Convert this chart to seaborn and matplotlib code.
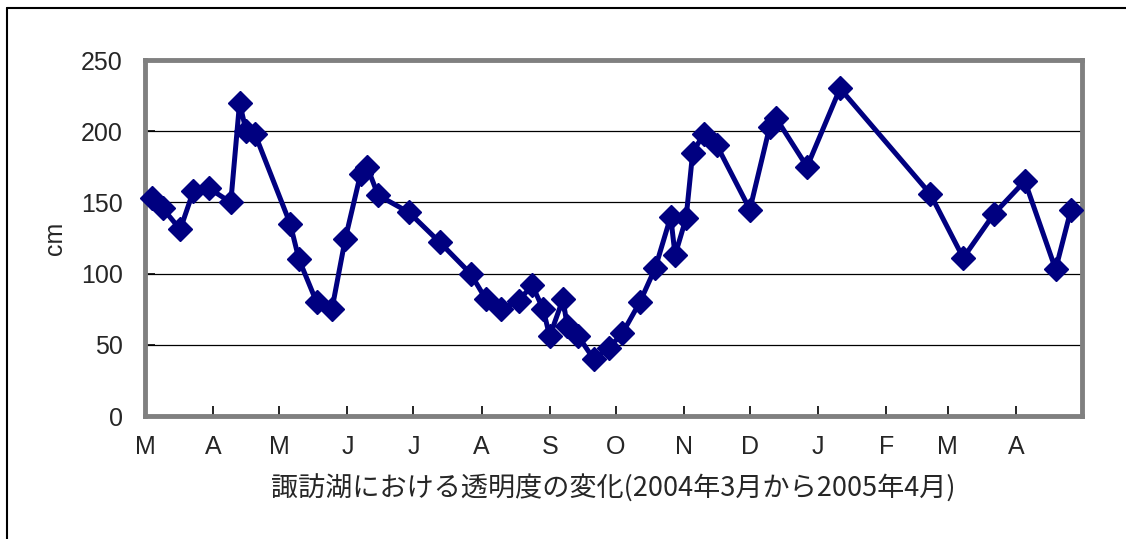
import pandas as pd
import matplotlib.pyplot as plt
from matplotlib.lines import Line2D
import seaborn as sns

# 諏訪湖の透明度 (cm), 2004年3月〜2005年4月
dates = [
    '2004-03-04', '2004-03-09', '2004-03-17', '2004-03-23', '2004-03-30',
    '2004-04-09', '2004-04-13', '2004-04-16', '2004-04-20',
    '2004-05-06', '2004-05-10', '2004-05-18', '2004-05-25', '2004-05-31',
    '2004-06-07', '2004-06-10', '2004-06-15', '2004-06-29',
    '2004-07-13', '2004-07-27',
    '2004-08-03', '2004-08-10', '2004-08-18', '2004-08-24', '2004-08-29',
    '2004-09-01', '2004-09-07', '2004-09-09', '2004-09-14', '2004-09-21', '2004-09-28',
    '2004-10-04', '2004-10-12', '2004-10-19', '2004-10-26', '2004-10-28',
    '2004-11-02', '2004-11-05', '2004-11-10', '2004-11-16',
    '2004-12-01', '2004-12-10', '2004-12-13', '2004-12-27',
    '2005-01-11', '2005-02-21',
    '2005-03-08', '2005-03-22',
    '2005-04-05', '2005-04-19', '2005-04-26',
]
transparency = [
    153, 146, 131, 158, 160,
    150, 220, 200, 198,
    135, 110, 80, 75, 124,
    170, 175, 155, 143,
    122, 100,
    82, 75, 81, 92, 75,
    56, 82, 63, 56, 40, 48,
    58, 80, 104, 140, 113,
    139, 185, 198, 190,
    145, 203, 209, 175,
    230, 156,
    111, 142,
    165, 103, 145,
]
month_labels = ['M', 'A', 'M', 'J', 'J', 'A', 'S', 'O', 'N', 'D', 'J', 'F', 'M', 'A', '']
y_ticks = [0, 50, 100, 150, 200, 250]

df = pd.DataFrame({'date': pd.to_datetime(dates), 'cm': transparency})

sns.set_style('white')
plt.rcParams['font.family'] = ['Liberation Sans', 'DejaVu Sans']

fig = plt.figure(figsize=(11.26, 5.39), dpi=100)
ax = fig.add_axes([145 / 1126, 1 - 416 / 539, (1082 - 145) / 1126, (416 - 60) / 539])

# horizontal grid lines (Excel style)
for y in y_ticks[1:-1]:
    ax.axhline(y, color='black', lw=0.9, zorder=1)

sns.lineplot(data=df, x='date', y='cm', ax=ax, color='#000080', lw=3.6,
             marker='D', markersize=12.5, markeredgecolor='#000080',
             markeredgewidth=1, zorder=3, clip_on=False)

x0 = pd.Timestamp('2004-03-01')
x1 = pd.Timestamp('2005-05-01')
ax.set_xlim(x0, x1)
ax.set_ylim(0, 250)

ax.set_xticks(pd.date_range(x0, x1, freq='MS'))
ax.set_xticklabels(month_labels)
ax.set_yticks(y_ticks)

ax.tick_params(axis='both', direction='in', length=7, width=1.2, color='black',
               labelsize=18, bottom=True, left=True)
ax.tick_params(axis='x', pad=14)
ax.tick_params(axis='y', pad=16)

for s in ax.spines.values():
    s.set_color('#808080')
    s.set_linewidth(3.5)
    s.set_zorder(2)

ax.set_ylabel('cm', fontsize=18, labelpad=10)
ax.set_xlabel('諏訪湖における透明度の変化(2004年3月から2005年4月)', fontsize=19.5,
              family=['Noto Sans CJK JP', 'DejaVu Sans'], labelpad=11)

# outer chart border (only left and top edges are visible)
bx, by = 7 / 1126, 1 - 8 / 539
fig.add_artist(Line2D([bx, bx], [0, by], transform=fig.transFigure, color='black', lw=1.5))
fig.add_artist(Line2D([bx, 1], [by, by], transform=fig.transFigure, color='black', lw=1.5))

plt.savefig('out.png', dpi=100)
plt.close(fig)
